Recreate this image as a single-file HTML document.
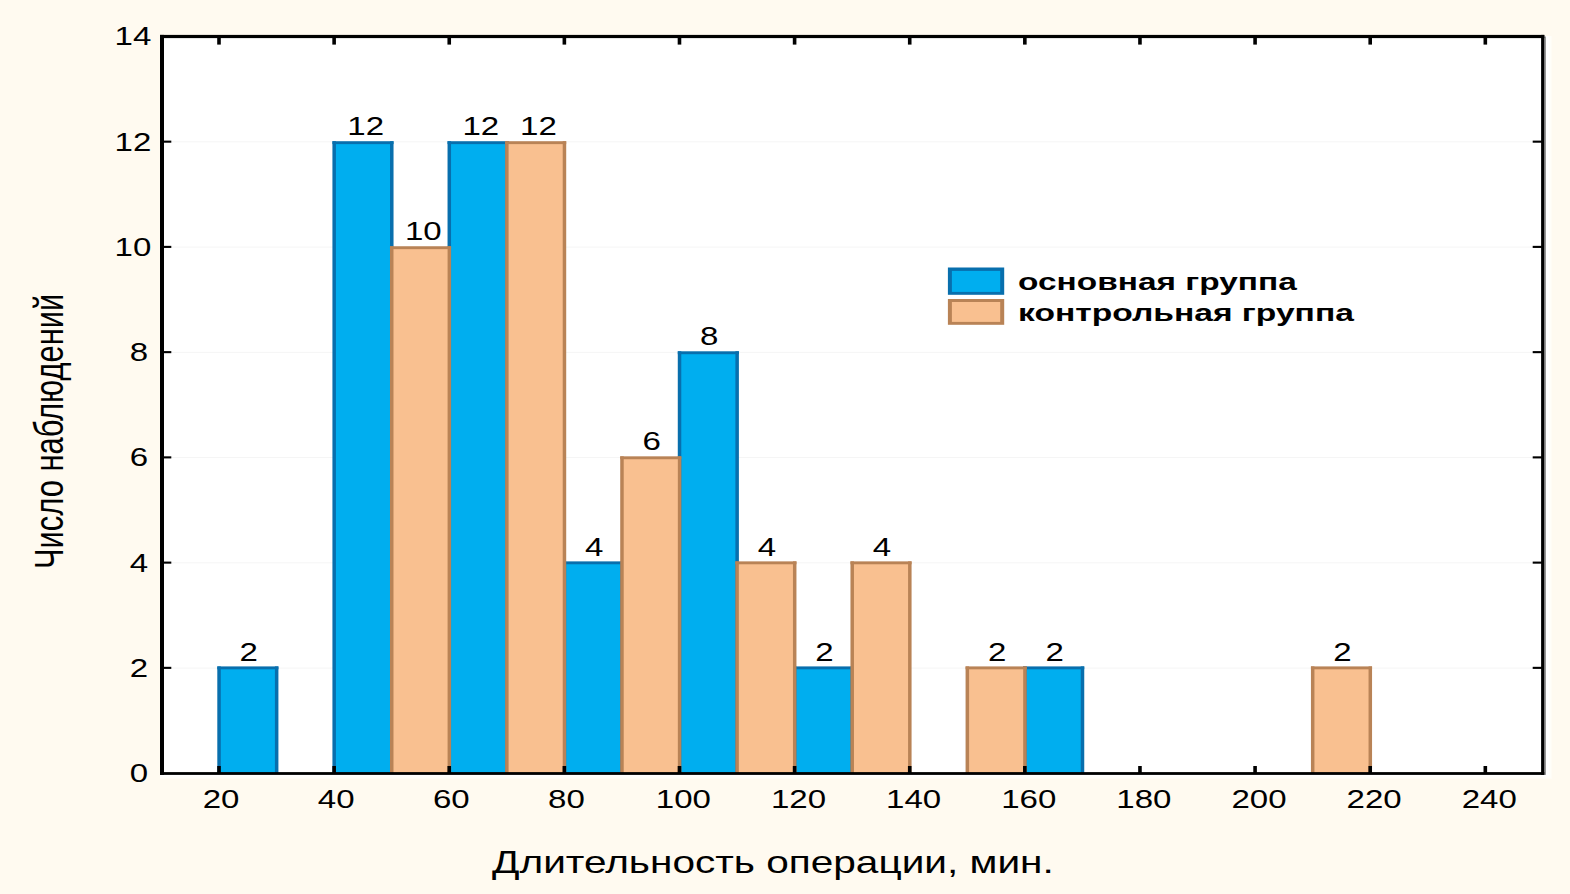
<!DOCTYPE html>
<html lang="ru"><head><meta charset="utf-8"><title>Длительность операции</title>
<style>html,body{margin:0;padding:0;background:#FFFAF0;overflow:hidden}svg{display:block}text{font-family:"Liberation Sans",Arial,sans-serif;fill:#000}</style></head><body>
<svg width="1570" height="894" viewBox="0 0 1570 894">
<rect x="0" y="0" width="1570" height="894" fill="#FFFAF0"/>
<rect x="160" y="36" width="1392" height="743" fill="#FFFCF5"/>
<rect x="160" y="36" width="1390.8" height="741.8" fill="#FFFEFA"/>
<rect x="160" y="36" width="1389" height="740.3" fill="#FFFFFF"/>
<rect x="164.0" y="667.56" width="1377.1" height="1" fill="#F5F5F5"/>
<rect x="164.0" y="562.32" width="1377.1" height="1" fill="#F5F5F5"/>
<rect x="164.0" y="457.08" width="1377.1" height="1" fill="#F5F5F5"/>
<rect x="164.0" y="351.84" width="1377.1" height="1" fill="#F5F5F5"/>
<rect x="164.0" y="246.60" width="1377.1" height="1" fill="#F5F5F5"/>
<rect x="164.0" y="141.36" width="1377.1" height="1" fill="#F5F5F5"/>
<rect x="218.90" y="667.46" width="57.56" height="105.64" fill="#00AEEF"/>
<rect x="217.30" y="666.41" width="3.5" height="106.64" fill="#086FAD"/>
<rect x="274.91" y="666.41" width="3.5" height="106.64" fill="#086FAD"/>
<rect x="217.30" y="666.41" width="61.11" height="2.9" fill="#086FAD"/>
<rect x="334.02" y="142.26" width="57.56" height="630.84" fill="#00AEEF"/>
<rect x="332.42" y="141.21" width="3.5" height="631.84" fill="#086FAD"/>
<rect x="390.03" y="141.21" width="3.5" height="631.84" fill="#086FAD"/>
<rect x="332.42" y="141.21" width="61.11" height="2.9" fill="#086FAD"/>
<rect x="449.14" y="142.26" width="57.56" height="630.84" fill="#00AEEF"/>
<rect x="447.54" y="141.21" width="3.5" height="631.84" fill="#086FAD"/>
<rect x="505.15" y="141.21" width="3.5" height="631.84" fill="#086FAD"/>
<rect x="447.54" y="141.21" width="61.11" height="2.9" fill="#086FAD"/>
<rect x="564.26" y="562.42" width="57.56" height="210.68" fill="#00AEEF"/>
<rect x="562.66" y="561.37" width="3.5" height="211.68" fill="#086FAD"/>
<rect x="620.27" y="561.37" width="3.5" height="211.68" fill="#086FAD"/>
<rect x="562.66" y="561.37" width="61.11" height="2.9" fill="#086FAD"/>
<rect x="679.38" y="352.34" width="57.56" height="420.76" fill="#00AEEF"/>
<rect x="677.78" y="351.29" width="3.5" height="421.76" fill="#086FAD"/>
<rect x="735.39" y="351.29" width="3.5" height="421.76" fill="#086FAD"/>
<rect x="677.78" y="351.29" width="61.11" height="2.9" fill="#086FAD"/>
<rect x="794.50" y="667.46" width="57.56" height="105.64" fill="#00AEEF"/>
<rect x="792.90" y="666.41" width="3.5" height="106.64" fill="#086FAD"/>
<rect x="850.51" y="666.41" width="3.5" height="106.64" fill="#086FAD"/>
<rect x="792.90" y="666.41" width="61.11" height="2.9" fill="#086FAD"/>
<rect x="1024.74" y="667.46" width="57.56" height="105.64" fill="#00AEEF"/>
<rect x="1023.14" y="666.41" width="3.5" height="106.64" fill="#086FAD"/>
<rect x="1080.75" y="666.41" width="3.5" height="106.64" fill="#086FAD"/>
<rect x="1023.14" y="666.41" width="61.11" height="2.9" fill="#086FAD"/>
<rect x="391.58" y="247.30" width="57.56" height="525.80" fill="#F9C090"/>
<rect x="389.98" y="246.25" width="3.5" height="526.80" fill="#B98356"/>
<rect x="447.59" y="246.25" width="3.5" height="526.80" fill="#B98356"/>
<rect x="389.98" y="246.25" width="61.11" height="2.9" fill="#B98356"/>
<rect x="506.70" y="142.26" width="57.56" height="630.84" fill="#F9C090"/>
<rect x="505.10" y="141.21" width="3.5" height="631.84" fill="#B98356"/>
<rect x="562.71" y="141.21" width="3.5" height="631.84" fill="#B98356"/>
<rect x="505.10" y="141.21" width="61.11" height="2.9" fill="#B98356"/>
<rect x="621.82" y="457.38" width="57.56" height="315.72" fill="#F9C090"/>
<rect x="620.22" y="456.33" width="3.5" height="316.72" fill="#B98356"/>
<rect x="677.83" y="456.33" width="3.5" height="316.72" fill="#B98356"/>
<rect x="620.22" y="456.33" width="61.11" height="2.9" fill="#B98356"/>
<rect x="736.94" y="562.42" width="57.56" height="210.68" fill="#F9C090"/>
<rect x="735.34" y="561.37" width="3.5" height="211.68" fill="#B98356"/>
<rect x="792.95" y="561.37" width="3.5" height="211.68" fill="#B98356"/>
<rect x="735.34" y="561.37" width="61.11" height="2.9" fill="#B98356"/>
<rect x="852.06" y="562.42" width="57.56" height="210.68" fill="#F9C090"/>
<rect x="850.46" y="561.37" width="3.5" height="211.68" fill="#B98356"/>
<rect x="908.07" y="561.37" width="3.5" height="211.68" fill="#B98356"/>
<rect x="850.46" y="561.37" width="61.11" height="2.9" fill="#B98356"/>
<rect x="967.18" y="667.46" width="57.56" height="105.64" fill="#F9C090"/>
<rect x="965.58" y="666.41" width="3.5" height="106.64" fill="#B98356"/>
<rect x="1023.19" y="666.41" width="3.5" height="106.64" fill="#B98356"/>
<rect x="965.58" y="666.41" width="61.11" height="2.9" fill="#B98356"/>
<rect x="1312.54" y="667.46" width="57.56" height="105.64" fill="#F9C090"/>
<rect x="1310.94" y="666.41" width="3.5" height="106.64" fill="#B98356"/>
<rect x="1368.55" y="666.41" width="3.5" height="106.64" fill="#B98356"/>
<rect x="1310.94" y="666.41" width="61.11" height="2.9" fill="#B98356"/>
<rect x="217.20" y="35.90" width="3.6" height="8.7" fill="#000"/>
<rect x="217.20" y="766.00" width="3.6" height="7.1" fill="#000"/>
<rect x="332.32" y="35.90" width="3.6" height="8.7" fill="#000"/>
<rect x="332.32" y="766.00" width="3.6" height="7.1" fill="#000"/>
<rect x="447.44" y="35.90" width="3.6" height="8.7" fill="#000"/>
<rect x="447.44" y="766.00" width="3.6" height="7.1" fill="#000"/>
<rect x="562.56" y="35.90" width="3.6" height="8.7" fill="#000"/>
<rect x="562.56" y="766.00" width="3.6" height="7.1" fill="#000"/>
<rect x="677.68" y="35.90" width="3.6" height="8.7" fill="#000"/>
<rect x="677.68" y="766.00" width="3.6" height="7.1" fill="#000"/>
<rect x="792.80" y="35.90" width="3.6" height="8.7" fill="#000"/>
<rect x="792.80" y="766.00" width="3.6" height="7.1" fill="#000"/>
<rect x="907.92" y="35.90" width="3.6" height="8.7" fill="#000"/>
<rect x="907.92" y="766.00" width="3.6" height="7.1" fill="#000"/>
<rect x="1023.04" y="35.90" width="3.6" height="8.7" fill="#000"/>
<rect x="1023.04" y="766.00" width="3.6" height="7.1" fill="#000"/>
<rect x="1138.16" y="35.90" width="3.6" height="8.7" fill="#000"/>
<rect x="1138.16" y="766.00" width="3.6" height="7.1" fill="#000"/>
<rect x="1253.28" y="35.90" width="3.6" height="8.7" fill="#000"/>
<rect x="1253.28" y="766.00" width="3.6" height="7.1" fill="#000"/>
<rect x="1368.40" y="35.90" width="3.6" height="8.7" fill="#000"/>
<rect x="1368.40" y="766.00" width="3.6" height="7.1" fill="#000"/>
<rect x="1483.52" y="35.90" width="3.6" height="8.7" fill="#000"/>
<rect x="1483.52" y="766.00" width="3.6" height="7.1" fill="#000"/>
<rect x="163.00" y="666.81" width="8.3" height="2.1" fill="#000"/>
<rect x="1532.70" y="666.81" width="9.4" height="2.1" fill="#000"/>
<rect x="163.00" y="561.57" width="8.3" height="2.1" fill="#000"/>
<rect x="1532.70" y="561.57" width="9.4" height="2.1" fill="#000"/>
<rect x="163.00" y="456.33" width="8.3" height="2.1" fill="#000"/>
<rect x="1532.70" y="456.33" width="9.4" height="2.1" fill="#000"/>
<rect x="163.00" y="351.09" width="8.3" height="2.1" fill="#000"/>
<rect x="1532.70" y="351.09" width="9.4" height="2.1" fill="#000"/>
<rect x="163.00" y="245.85" width="8.3" height="2.1" fill="#000"/>
<rect x="1532.70" y="245.85" width="9.4" height="2.1" fill="#000"/>
<rect x="163.00" y="140.61" width="8.3" height="2.1" fill="#000"/>
<rect x="1532.70" y="140.61" width="9.4" height="2.1" fill="#000"/>
<rect x="1544.30" y="36.5" width="1.6" height="738.4" fill="#8C8C8C"/>
<rect x="160.00" y="34.90" width="4.00" height="740.00" fill="#000"/>
<rect x="1541.10" y="34.90" width="3.20" height="740.00" fill="#000"/>
<rect x="160.00" y="34.90" width="1384.30" height="3.20" fill="#000"/>
<rect x="160.00" y="772.10" width="1384.30" height="2.80" fill="#000"/>
<text transform="translate(221.10 808.10) scale(1.3220 1)" font-size="25.00" text-anchor="middle">20</text>
<text transform="translate(336.22 808.10) scale(1.3220 1)" font-size="25.00" text-anchor="middle">40</text>
<text transform="translate(451.34 808.10) scale(1.3220 1)" font-size="25.00" text-anchor="middle">60</text>
<text transform="translate(566.46 808.10) scale(1.3220 1)" font-size="25.00" text-anchor="middle">80</text>
<text transform="translate(683.38 808.10) scale(1.3220 1)" font-size="25.00" text-anchor="middle">100</text>
<text transform="translate(798.50 808.10) scale(1.3220 1)" font-size="25.00" text-anchor="middle">120</text>
<text transform="translate(913.62 808.10) scale(1.3220 1)" font-size="25.00" text-anchor="middle">140</text>
<text transform="translate(1028.74 808.10) scale(1.3220 1)" font-size="25.00" text-anchor="middle">160</text>
<text transform="translate(1143.86 808.10) scale(1.3220 1)" font-size="25.00" text-anchor="middle">180</text>
<text transform="translate(1258.98 808.10) scale(1.3220 1)" font-size="25.00" text-anchor="middle">200</text>
<text transform="translate(1374.10 808.10) scale(1.3220 1)" font-size="25.00" text-anchor="middle">220</text>
<text transform="translate(1489.22 808.10) scale(1.3220 1)" font-size="25.00" text-anchor="middle">240</text>
<text transform="translate(148.20 782.10) scale(1.3220 1)" font-size="25.00" text-anchor="end">0</text>
<text transform="translate(148.20 676.86) scale(1.3220 1)" font-size="25.00" text-anchor="end">2</text>
<text transform="translate(148.20 571.62) scale(1.3220 1)" font-size="25.00" text-anchor="end">4</text>
<text transform="translate(148.20 466.38) scale(1.3220 1)" font-size="25.00" text-anchor="end">6</text>
<text transform="translate(148.20 361.14) scale(1.3220 1)" font-size="25.00" text-anchor="end">8</text>
<text transform="translate(151.30 255.90) scale(1.3220 1)" font-size="25.00" text-anchor="end">10</text>
<text transform="translate(151.30 150.66) scale(1.3220 1)" font-size="25.00" text-anchor="end">12</text>
<text transform="translate(151.30 45.42) scale(1.3220 1)" font-size="25.00" text-anchor="end">14</text>
<text transform="translate(248.78 660.86) scale(1.3220 1)" font-size="25.00" text-anchor="middle">2</text>
<text transform="translate(365.70 134.66) scale(1.3220 1)" font-size="25.00" text-anchor="middle">12</text>
<text transform="translate(480.82 134.66) scale(1.3220 1)" font-size="25.00" text-anchor="middle">12</text>
<text transform="translate(594.14 555.62) scale(1.3220 1)" font-size="25.00" text-anchor="middle">4</text>
<text transform="translate(709.26 345.14) scale(1.3220 1)" font-size="25.00" text-anchor="middle">8</text>
<text transform="translate(824.38 660.86) scale(1.3220 1)" font-size="25.00" text-anchor="middle">2</text>
<text transform="translate(1054.62 660.86) scale(1.3220 1)" font-size="25.00" text-anchor="middle">2</text>
<text transform="translate(423.26 239.90) scale(1.3220 1)" font-size="25.00" text-anchor="middle">10</text>
<text transform="translate(538.38 134.66) scale(1.3220 1)" font-size="25.00" text-anchor="middle">12</text>
<text transform="translate(651.70 450.38) scale(1.3220 1)" font-size="25.00" text-anchor="middle">6</text>
<text transform="translate(766.82 555.62) scale(1.3220 1)" font-size="25.00" text-anchor="middle">4</text>
<text transform="translate(881.94 555.62) scale(1.3220 1)" font-size="25.00" text-anchor="middle">4</text>
<text transform="translate(997.06 660.86) scale(1.3220 1)" font-size="25.00" text-anchor="middle">2</text>
<text transform="translate(1342.42 660.86) scale(1.3220 1)" font-size="25.00" text-anchor="middle">2</text>
<rect x="947.9" y="267.5" width="56.3" height="27.3" fill="#086FAD"/><rect x="951.9" y="270.9" width="48.3" height="21" fill="#00AEEF"/>
<rect x="947.9" y="299" width="56.3" height="25.8" fill="#B98356"/><rect x="951.9" y="302" width="48.3" height="19.9" fill="#F9C090"/>
<text transform="translate(1018.00 289.60) scale(1.4107 1)" font-size="23.70" text-anchor="start" font-weight="bold">основная группа</text>
<text transform="translate(1018.00 321.30) scale(1.4183 1)" font-size="23.70" text-anchor="start" font-weight="bold">контрольная группа</text>
<text transform="translate(772.90 873.20) scale(1.3090 1)" font-size="31.00" text-anchor="middle">Длительность операции, мин.</text>
<text transform="translate(63.00 431.40) scale(1.3000 1) rotate(-90)" font-size="30.90" text-anchor="middle">Число наблюдений</text>
</svg></body></html>
